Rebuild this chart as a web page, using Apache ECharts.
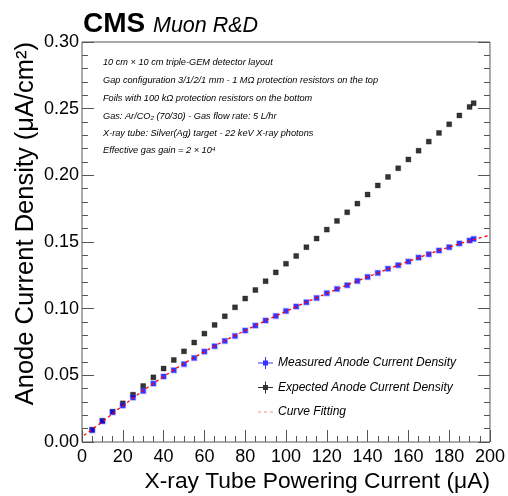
<!DOCTYPE html>
<html>
<head>
<meta charset="utf-8">
<script src="https://cdn.jsdelivr.net/npm/echarts@6/dist/echarts.min.js"></script>
<style>
  html, body { margin: 0; padding: 0; background: #fff; }
  #chart { width: 508px; height: 496px; }
</style>
</head>
<body>
<div id="chart"></div>
<script>
// X-ray tube powering current (uA)
const currents = [5, 10, 15, 20, 25, 30, 35, 40, 45, 50, 55, 60, 65, 70, 75, 80, 85, 90, 95, 100,
  105, 110, 115, 120, 125, 130, 135, 140, 145, 150, 155, 160, 165, 170, 175, 180, 185, 190, 192];

// Measured anode current density (uA/cm^2)
const measured = [0.0088, 0.0155, 0.0223, 0.0273, 0.0333, 0.0383, 0.0438, 0.0491, 0.0538, 0.0584,
  0.0630, 0.0678, 0.0718, 0.0758, 0.0795, 0.0836, 0.0873, 0.0911, 0.0945, 0.0982,
  0.1016, 0.1048, 0.1080, 0.1116, 0.1148, 0.1176, 0.1208, 0.1238, 0.1268, 0.1300,
  0.1326, 0.1353, 0.1383, 0.1408, 0.1436, 0.1461, 0.1489, 0.1511, 0.1523];

// Expected anode current density (uA/cm^2)
const expected = [0.0093, 0.0160, 0.0228, 0.0290, 0.0355, 0.0420, 0.0485, 0.0551, 0.0615, 0.0680,
  0.0746, 0.0813, 0.0878, 0.0943, 0.1010, 0.1076, 0.1140, 0.1206, 0.1272, 0.1337,
  0.1395, 0.1461, 0.1526, 0.1593, 0.1658, 0.1723, 0.1788, 0.1856, 0.1924, 0.1988,
  0.2053, 0.2119, 0.2185, 0.2253, 0.2318, 0.2383, 0.2449, 0.2513, 0.2541];

// Fitted curve, sampled along the current range
const fitX = [1, 10, 20, 40, 60, 80, 100, 120, 140, 160, 180, 200];
const fitY = [0.0050, 0.0152, 0.0272, 0.0490, 0.0677, 0.0836, 0.0980, 0.1114, 0.1238, 0.1354, 0.1462, 0.1552];

const notes = [
  '10 cm × 10 cm triple-GEM detector layout',
  'Gap configuration 3/1/2/1 mm - 1 MΩ protection resistors on the top',
  'Foils with 100 kΩ protection resistors on the bottom',
  'Gas: Ar/CO₂ (70/30) - Gas flow rate: 5 L/hr',
  'X-ray tube: Silver(Ag) target - 22 keV X-ray photons',
  'Effective gas gain = 2 × 10⁴'
];
const noteRows = [62, 80, 98, 116, 133, 150];

const FONT = '"Liberation Sans", Arial, Helvetica, sans-serif';
const AXIS_COLOR = '#555';

// Point marker with error-bar cross, used as legend icon
const crossIcon = 'path://M0,5.5H15V6.5H0Z M7,0H8V12H7Z M5,3.5H10V8.5H5Z';
// Short dashed segment for the fitted curve in the legend
const dashIcon = 'path://M0,5.5H3V6.5H0Z M6,5.5H9V6.5H6Z M12,5.5H15V6.5H12Z M0,0H0.01V12H0Z';

const pair = (xs, ys) => xs.map((x, i) => [x, ys[i]]);

const chart = echarts.init(document.getElementById('chart'), null, { renderer: 'canvas' });

const tickAxisY = (position, showLabels) => ({
  type: 'value',
  position: position,
  min: 0,
  max: 0.30,
  interval: 0.05,
  axisLine: { show: false },
  axisTick: { show: true, inside: true, length: 12, lineStyle: { color: AXIS_COLOR, width: 1 } },
  minorTick: { show: true, splitNumber: 5, length: 6, lineStyle: { color: AXIS_COLOR, width: 1 } },
  splitLine: { show: false },
  axisLabel: {
    show: showLabels,
    formatter: v => v.toFixed(2),
    color: '#000',
    fontFamily: FONT,
    fontSize: 18,
    margin: 3
  }
});

chart.setOption({
  animation: false,
  backgroundColor: '#fff',
  grid: {
    left: 82, right: 17, top: 42, bottom: 54,
    show: true,
    borderColor: AXIS_COLOR,
    borderWidth: 1,
    backgroundColor: 'transparent'
  },
  xAxis: {
    type: 'value',
    min: 0,
    max: 200,
    interval: 20,
    axisLine: { show: false },
    axisTick: { show: true, inside: true, length: 12, lineStyle: { color: AXIS_COLOR, width: 1 } },
    minorTick: { show: true, splitNumber: 4, length: 6, lineStyle: { color: AXIS_COLOR, width: 1 } },
    splitLine: { show: false },
    axisLabel: { color: '#000', fontFamily: FONT, fontSize: 18, margin: 6 },
    name: 'X-ray Tube Powering Current (μA)',
    nameLocation: 'end',
    nameGap: 0,
    nameTextStyle: {
      color: '#000', fontFamily: FONT, fontSize: 22.8,
      align: 'right', verticalAlign: 'top', padding: [28, 0, 0, 0]
    }
  },
  yAxis: [tickAxisY('left', true), tickAxisY('right', false)],
  legend: {
    orient: 'vertical',
    left: 258,
    top: 356,
    padding: 0,
    itemWidth: 15,
    itemHeight: 12,
    itemGap: 10.5,
    itemTextGap: 5,
    textStyle: { color: '#000', fontFamily: FONT, fontSize: 12, fontStyle: 'italic', lineHeight: 14 },
    itemStyle: { borderWidth: 0 },
    data: [
      { name: 'Measured Anode Current Density', icon: crossIcon },
      { name: 'Expected Anode Current Density', icon: crossIcon },
      { name: 'Curve Fitting', icon: dashIcon, itemStyle: { color: '#ff8c8c', borderWidth: 0 } }
    ]
  },
  series: [
    {
      name: 'Expected Anode Current Density',
      type: 'scatter',
      data: pair(currents, expected),
      symbol: 'rect',
      symbolSize: 5,
      itemStyle: { color: '#000', borderColor: 'rgba(0,0,0,0.35)', borderWidth: 1 },
      z: 2
    },
    {
      name: 'Measured Anode Current Density',
      type: 'scatter',
      data: pair(currents, measured),
      symbol: 'rect',
      symbolSize: 5,
      itemStyle: { color: '#0000ff', borderColor: 'rgba(70,70,255,0.45)', borderWidth: 1.5 },
      z: 3
    },
    {
      name: 'Curve Fitting',
      type: 'line',
      data: pair(fitX, fitY),
      smooth: true,
      symbol: 'none',
      lineStyle: { color: '#ff0000', width: 1.3, type: [3, 3] },
      itemStyle: { color: '#ff0000' },
      z: 4
    }
  ],
  graphic: [
    {
      type: 'text', x: 83, y: 24,
      style: { text: 'CMS', font: 'bold 28px ' + FONT, fill: '#000', verticalAlign: 'middle' }
    },
    {
      type: 'text', x: 153, y: 26,
      style: { text: 'Muon R&D', font: 'italic 21.5px ' + FONT, fill: '#000', verticalAlign: 'middle' }
    },
    {
      type: 'text', x: 26, y: 42, rotation: Math.PI / 2,
      style: {
        text: 'Anode Current Density (μA/cm²)',
        font: '25.5px ' + FONT, fill: '#000',
        align: 'right', verticalAlign: 'middle'
      }
    }
  ].concat(notes.map((t, i) => ({
    type: 'text', x: 103, y: noteRows[i],
    style: { text: t, font: 'italic 9.2px ' + FONT, fill: '#000', verticalAlign: 'middle' }
  })))
});
</script>
</body>
</html>
